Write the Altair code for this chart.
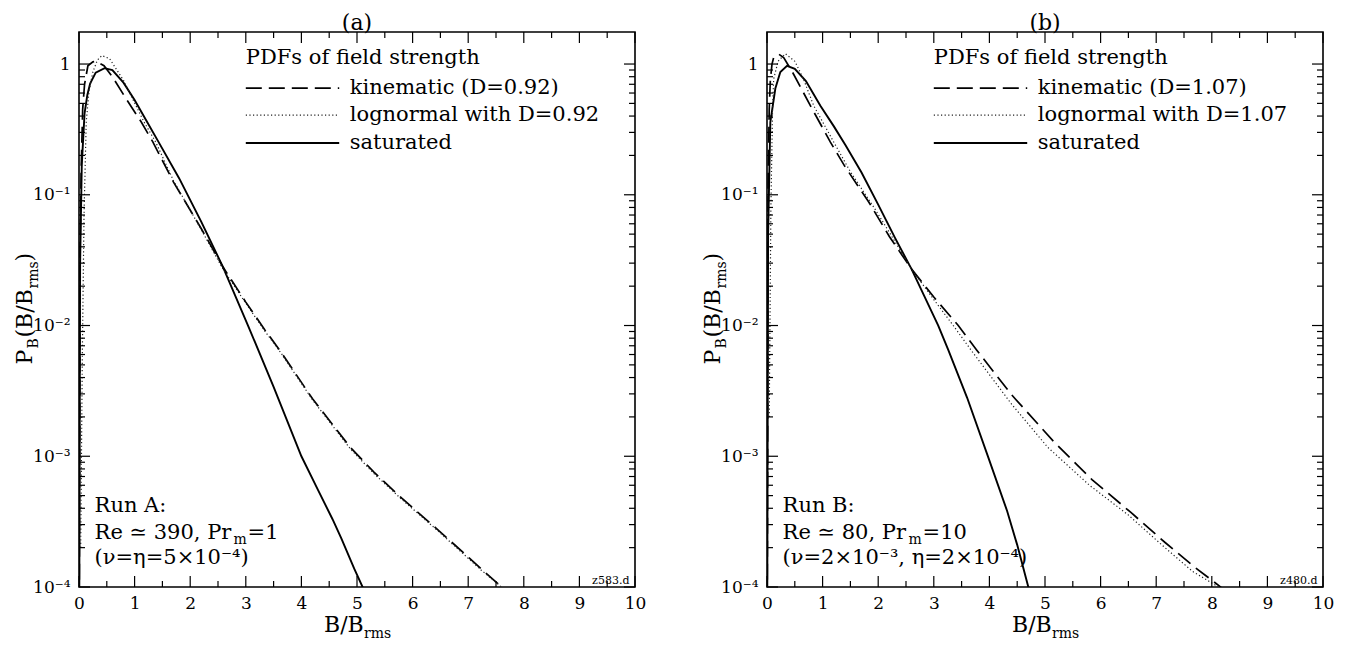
import altair as alt
import pandas as pd

FONT = "DejaVu Serif"

# ---------------- panel (a) data ----------------
A_SAT_X = [0.0, 0.02, 0.05, 0.1, 0.15, 0.2, 0.3, 0.46, 0.6, 0.8, 1.0, 1.21, 1.45, 1.8, 2.2, 2.59, 3.04, 3.5, 4.0, 4.3, 4.56, 4.72, 4.95, 5.1, 5.15]
A_SAT_Y = [1e-5, 0.03, 0.17, 0.42, 0.58, 0.71, 0.86, 0.93, 0.9, 0.72, 0.53, 0.37, 0.245, 0.134, 0.062, 0.028, 0.010, 0.0034, 0.00100, 0.00055, 0.00033, 0.000234, 0.000138, 0.000100, 0.00009]

A_KIN_X = [0.0, 0.02, 0.04, 0.066, 0.1, 0.16, 0.25, 0.31, 0.45, 0.6, 0.85, 1.12, 1.33, 1.7, 2.2, 2.59, 3.0, 3.34, 3.64, 4.2, 4.88, 5.3, 5.8, 6.45, 6.92, 7.23, 7.6, 7.7]
A_KIN_Y = [1e-5, 0.04, 0.16, 0.45, 0.7, 0.97, 1.04, 1.05, 0.97, 0.8, 0.54, 0.36, 0.253, 0.125, 0.055, 0.028, 0.0151, 0.0093, 0.0062, 0.00275, 0.00117, 0.00076, 0.00048, 0.000275, 0.000182, 0.000138, 0.0001, 0.00009]

A_LOG_X = [0.03, 0.06, 0.09, 0.13, 0.18, 0.25, 0.33, 0.41, 0.55, 0.8, 1.17, 1.38, 1.7, 2.2, 2.59, 3.0, 3.34, 3.64, 4.2, 4.88, 5.3, 5.8, 6.45, 6.92, 7.23, 7.6, 7.7]
A_LOG_Y = [0.0002, 0.006, 0.07, 0.36, 0.62, 0.87, 1.07, 1.16, 1.1, 0.75, 0.36, 0.253, 0.128, 0.054, 0.027, 0.0148, 0.0091, 0.0061, 0.0027, 0.00114, 0.00074, 0.00047, 0.00027, 0.000178, 0.000135, 0.0001, 0.00009]

# ---------------- panel (b) data ----------------
B_SAT_X = [0.0, 0.02, 0.06, 0.15, 0.24, 0.36, 0.5, 0.7, 0.96, 1.2, 1.41, 1.7, 2.0, 2.3, 2.6, 3.08, 3.26, 3.6, 3.98, 4.32, 4.5, 4.7, 4.75]
B_SAT_Y = [1e-5, 0.05, 0.36, 0.65, 0.87, 0.97, 0.92, 0.74, 0.48, 0.335, 0.24, 0.148, 0.084, 0.047, 0.027, 0.010, 0.0065, 0.0028, 0.00098, 0.00038, 0.00021, 0.0001, 0.00009]

B_KIN_X = [0.0, 0.02, 0.04, 0.06, 0.09, 0.12, 0.21, 0.3, 0.45, 0.6, 0.78, 1.14, 1.4, 1.83, 2.2, 2.6, 3.0, 3.44, 3.77, 4.4, 5.16, 5.85, 6.55, 7.16, 7.7, 8.16, 8.25]
B_KIN_Y = [1e-5, 0.12, 0.45, 0.75, 1.0, 1.12, 1.19, 1.12, 0.88, 0.67, 0.48, 0.253, 0.165, 0.088, 0.048, 0.027, 0.0165, 0.0100, 0.0065, 0.00295, 0.00129, 0.00066, 0.00037, 0.000219, 0.000141, 0.0001, 0.00009]

B_LOG_X = [0.04, 0.07, 0.1, 0.12, 0.2, 0.33, 0.5, 0.65, 0.84, 1.2, 1.5, 1.94, 2.3, 2.6, 3.0, 3.35, 3.68, 4.4, 5.05, 5.8, 6.5, 7.1, 7.65, 8.12, 8.2]
B_LOG_Y = [0.002, 0.08, 0.45, 0.77, 1.05, 1.2, 1.05, 0.78, 0.48, 0.253, 0.15, 0.078, 0.044, 0.027, 0.0158, 0.0100, 0.0064, 0.0025, 0.00117, 0.0006, 0.000355, 0.00021, 0.000132, 0.0001, 0.00009]

# ---------------- texts ----------------
PANEL_TAGS = ["(a)", "(b)"]
LEGEND_TITLE = "PDFs of field strength"
A_LEGEND = ["kinematic (D=0.92)", "lognormal with D=0.92", "saturated"]
B_LEGEND = ["kinematic (D=1.07)", "lognormal with D=1.07", "saturated"]
A_RUN = ["Run A:", ["Re ≃ 390, Pr", "m", "=1"], "(ν=η=5×10⁻⁴)"]
B_RUN = ["Run B:", ["Re ≃ 80, Pr", "m", "=10"], "(ν=2×10⁻³, η=2×10⁻⁴)"]
CODES = ["z583.d", "z480.d"]
X_TITLE_PARTS = ["B/B", "rms"]
Y_TITLE_PARTS = ["P", "B", "(B/B", "rms", ")"]

# ---------------- axes ----------------
X_MAJOR = list(range(0, 11))
X_MINOR = [0.5, 1.5, 2.5, 3.5, 4.5, 5.5, 6.5, 7.5, 8.5, 9.5]
Y_MAJOR = [1e-4, 1e-3, 1e-2, 1e-1, 1.0]
Y_MAJOR_LABELS = ["10⁻⁴", "10⁻³", "10⁻²", "10⁻¹", "1"]
Y_MINOR = [m * 10.0 ** k for k in range(-4, 0) for m in range(2, 10)]
Y_TOP = 10 ** 0.245

W, H = 556, 555
TXT = 21

expr_parts = [f"datum.value < {v * 1.5} ? '{lab}'" for v, lab in zip(Y_MAJOR[:-1], Y_MAJOR_LABELS[:-1])]
Y_LABEL_EXPR = " : ".join(expr_parts) + f" : '{Y_MAJOR_LABELS[-1]}'"


def panel(tag, sat, kin, lgn, legend_labels, run, code, run_dx):
    xs = alt.Scale(domain=[0, 10], nice=False, zero=False)
    ys = alt.Scale(type="log", domain=[1e-4, Y_TOP], nice=False)
    X = alt.X("x:Q", scale=xs, axis=alt.Axis(values=X_MAJOR, ticks=False, domain=False, grid=False,
                                              labelFont=FONT, labelFontSize=17, labelPadding=8,
                                              labelColor="black", title=None, format="d",
                                              labelFlush=False, labelOverlap=False))
    Y = alt.Y("y:Q", scale=ys, axis=alt.Axis(values=Y_MAJOR, labelExpr=Y_LABEL_EXPR, ticks=False,
                                              domain=False, grid=False, labelFont=FONT,
                                              labelFontSize=17, labelPadding=9, labelColor="black",
                                              title=None, labelOverlap=False))

    def df(xv, yv):
        return pd.DataFrame({"x": xv, "y": yv})

    layers = []
    # curves
    layers.append(alt.Chart(df(*sat)).mark_line(color="black", strokeWidth=1.9, clip=True).encode(x=X, y=Y))
    layers.append(alt.Chart(df(*kin)).mark_line(color="black", strokeWidth=1.7, strokeDash=[16, 7], clip=True).encode(x=X, y=Y))
    layers.append(alt.Chart(df(*lgn)).mark_line(color="#222222", strokeWidth=1.2, strokeDash=[1.2, 2.4], clip=True).encode(x=X, y=Y))

    # inward ticks
    xmaj = pd.DataFrame({"x": X_MAJOR})
    xmin = pd.DataFrame({"x": X_MINOR})
    ymaj = pd.DataFrame({"y": Y_MAJOR})
    ymin = pd.DataFrame({"y": Y_MINOR})
    tk = dict(color="black", strokeWidth=1.2)
    layers.append(alt.Chart(xmaj).mark_rule(**tk).encode(x=X, y=alt.value(H), y2=alt.value(H - 11)))
    layers.append(alt.Chart(xmaj).mark_rule(**tk).encode(x=X, y=alt.value(0), y2=alt.value(11)))
    layers.append(alt.Chart(xmin).mark_rule(**tk).encode(x=X, y=alt.value(H), y2=alt.value(H - 6)))
    layers.append(alt.Chart(xmin).mark_rule(**tk).encode(x=X, y=alt.value(0), y2=alt.value(6)))
    layers.append(alt.Chart(ymaj).mark_rule(**tk).encode(y=Y, x=alt.value(0), x2=alt.value(11)))
    layers.append(alt.Chart(ymaj).mark_rule(**tk).encode(y=Y, x=alt.value(W), x2=alt.value(W - 11)))
    layers.append(alt.Chart(ymin).mark_rule(**tk).encode(y=Y, x=alt.value(0), x2=alt.value(6)))
    layers.append(alt.Chart(ymin).mark_rule(**tk).encode(y=Y, x=alt.value(W), x2=alt.value(W - 6)))

    # legend
    leg_lines = pd.DataFrame({"x": [3.0, 3.0, 3.0], "x2": [4.68, 4.68, 4.68], "y": [0.655, 0.407, 0.249]})
    layers.append(alt.Chart(leg_lines.iloc[[0]]).mark_rule(color="black", strokeWidth=1.7, strokeDash=[16, 7]).encode(x=X, x2="x2:Q", y=Y))
    layers.append(alt.Chart(leg_lines.iloc[[1]]).mark_rule(color="#222222", strokeWidth=1.2, strokeDash=[1.2, 2.4]).encode(x=X, x2="x2:Q", y=Y))
    layers.append(alt.Chart(leg_lines.iloc[[2]]).mark_rule(color="black", strokeWidth=1.9).encode(x=X, x2="x2:Q", y=Y))
    leg_text = pd.DataFrame({"x": [3.0, 4.87, 4.87, 4.87], "y": [1.0, 0.59, 0.366, 0.224],
                             "t": [LEGEND_TITLE] + legend_labels})
    layers.append(alt.Chart(leg_text).mark_text(align="left", baseline="alphabetic", font=FONT, fontSize=TXT, color="black")
                  .encode(x=X, y=Y, text="t:N"))

    # run description
    run_df = pd.DataFrame({"x": [0.28, 0.28], "y": [3.73e-4, 1.5e-4], "t": [run[0], run[2]]})
    layers.append(alt.Chart(run_df).mark_text(align="left", baseline="alphabetic", font=FONT, fontSize=TXT, color="black")
                  .encode(x=X, y=Y, text="t:N"))
    for piece, dx, dy, fs in zip(run[1], run_dx, [0, 5, 0], [TXT, 14, TXT]):
        d = pd.DataFrame({"x": [0.28], "y": [2.33e-4], "t": [piece]})
        layers.append(alt.Chart(d).mark_text(align="left", baseline="alphabetic", font=FONT, fontSize=fs,
                                             dx=dx, dy=dy, color="black").encode(x=X, y=Y, text="t:N"))

    # code label
    cd = pd.DataFrame({"x": [9.9], "y": [1e-4], "t": [code]})
    layers.append(alt.Chart(cd).mark_text(align="right", baseline="alphabetic", font=FONT, fontSize=11,
                                          dy=-3, color="black").encode(x=X, y=Y, text="t:N"))

    # panel tag
    td = pd.DataFrame({"t": [tag]})
    layers.append(alt.Chart(td).mark_text(align="center", baseline="alphabetic", font=FONT, fontSize=22, color="black")
                  .encode(x=alt.value(W / 2), y=alt.value(-2), text="t:N"))

    # x title (with subscript)
    for piece, dx, dy, fs in zip(X_TITLE_PARTS, [0, 40], [0, 6], [22, 14]):
        d = pd.DataFrame({"t": [piece]})
        layers.append(alt.Chart(d).mark_text(align="left", baseline="alphabetic", font=FONT, fontSize=fs,
                                             dx=dx, dy=dy, color="black")
                      .encode(x=alt.value(W / 2 - 33), y=alt.value(600), text="t:N"))

    # y title (rotated, with subscripts)
    for piece, dx, dy, fs in zip(Y_TITLE_PARTS, [0, 16, 27, 76, 103], [0, 6, 0, 6, 0], [22, 14, 22, 14, 22]):
        d = pd.DataFrame({"t": [piece]})
        layers.append(alt.Chart(d).mark_text(align="left", baseline="alphabetic", font=FONT, fontSize=fs,
                                             angle=270, dx=dx, dy=dy, color="black")
                      .encode(x=alt.value(-47), y=alt.value(H / 2 + 55), text="t:N"))

    return alt.layer(*layers).properties(width=W, height=H)


pa = panel(PANEL_TAGS[0], (A_SAT_X, A_SAT_Y), (A_KIN_X, A_KIN_Y), (A_LOG_X, A_LOG_Y), A_LEGEND, A_RUN, CODES[0], [0, 139, 153])
pb = panel(PANEL_TAGS[1], (B_SAT_X, B_SAT_Y), (B_KIN_X, B_KIN_Y), (B_LOG_X, B_LOG_Y), B_LEGEND, B_RUN, CODES[1], [0, 126, 140])

chart = (alt.hconcat(pa, pb, spacing=54)
         .properties(padding={"left": 5, "top": 3, "right": 5, "bottom": 0}, background="white")
         .configure_view(stroke="black", strokeWidth=1.6))

chart.save("out.html", embed_options={"renderer": "svg", "actions": False})
